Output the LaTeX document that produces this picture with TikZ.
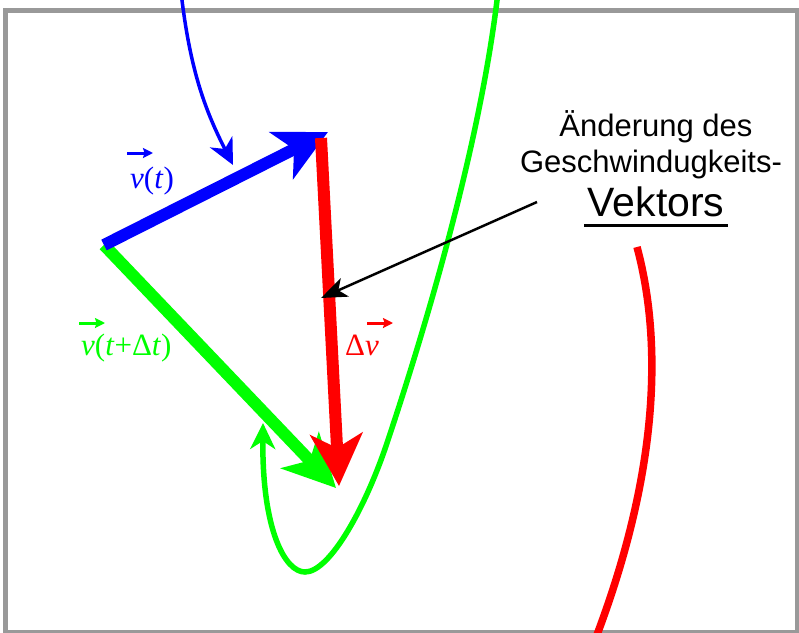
\documentclass[tikz,border=0pt]{standalone}
\usepackage{fontspec}
\setmainfont{Liberation Serif}
\setsansfont{Liberation Sans}
\usetikzlibrary{arrows.meta}
\definecolor{vgreen}{RGB}{0,255,0}
\definecolor{vblue}{RGB}{0,0,255}
\definecolor{vred}{RGB}{255,0,0}
\definecolor{framegray}{RGB}{153,153,153}
\tikzset{
  bigarrow/.style={line width=12pt, -{Stealth[length=52pt,width=52pt,inset=14pt]}},
  curvearrow/.style={line cap=round, -{Stealth[length=26pt,width=25pt,inset=8pt]}},
  lbl/.style={inner sep=0pt, font=\fontsize{31}{34}\selectfont},
  vecmark/.style={line width=3pt, -{Stealth[length=10pt,width=10pt,inset=1.5pt]}},
  notetext/.style={inner sep=0pt, align=center, font=\sffamily\fontsize{31}{37}\selectfont},
}
\begin{document}
\begin{tikzpicture}[x=1pt,y=-1pt]
\useasboundingbox (0,0) rectangle (799,632);
\begin{scope}
\clip (0,0) rectangle (799,632);
\draw[framegray, line width=5.5pt] (5.5,10.5) rectangle (798,633);

% green trajectory with arrow
\draw[vgreen, line width=5.5pt, curvearrow]
  (498,-8) .. controls (481,140) and (428,320) .. (388,440)
  .. controls (366,507) and (330,572) .. (305,572)
  .. controls (285,572) and (262,530) .. (263,423);

% blue trajectory with arrow
\draw[vblue, line width=3.5pt, curvearrow]
  (181,-8) .. controls (190,70) and (205,110) .. (233,165);

% red curve at right
\draw[vred, line width=7.5pt]
  (637,247) .. controls (662,340) and (660,470) .. (595,640);
\end{scope}

% vector triangle
\coordinate (O) at (104,245);
\coordinate (B) at (328,132);
\coordinate (G) at (336,488);
\coordinate (Rs) at (321,138);
\coordinate (Rt) at (339,486);
\draw[vgreen, bigarrow] (O) -- (G);
\draw[vblue, bigarrow] (O) -- (B);
\draw[vred, bigarrow, line cap=butt] (Rs) -- (Rt);

% labels
\node[lbl, vblue, anchor=base west] (vt) at (130,188) {\textit{v}(\textit{t})};
\draw[vblue, vecmark] ([shift={(-3,-35)}]vt.base west) -- ++(26,0);
\node[lbl, vgreen, anchor=base west] (vdt) at (81,355) {\textit{v}(\textit{t}+Δ\textit{t})};
\draw[vgreen, vecmark] ([shift={(-2,-32)}]vdt.base west) -- ++(26,0);
\node[lbl, vred, anchor=base west] (dv) at (345,355) {Δ\textit{v}};
\draw[vred, vecmark] ([shift={(22,-32)}]dv.base west) -- ++(26,0);

% annotation
\node[notetext, anchor=base] (t1) at (656,136) {Änderung des};
\node[notetext, anchor=base] (t2) at (651,172) {Geschwindugkeits-};
\node[notetext, anchor=base, font=\sffamily\fontsize{41}{45}\selectfont] (t3) at (656,216) {Vektors};
\draw[black, line width=3pt] ([shift={(-3,9)}]t3.base west) -- ([shift={(3,9)}]t3.base east);
\coordinate (as) at (537,202);
\coordinate (at) at (321,298);
\draw[black, line width=2.5pt, -{Stealth[length=26pt,width=20pt,inset=7pt]}] (as) -- (at);
\end{tikzpicture}
\end{document}
